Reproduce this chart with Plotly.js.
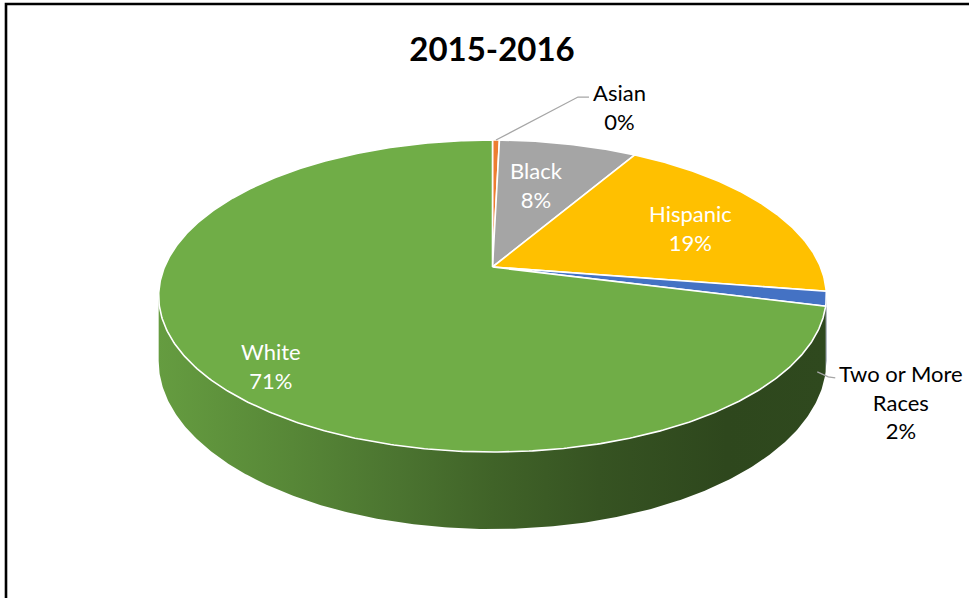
<!DOCTYPE html>
<html><head><meta charset="utf-8">
<script src="https://cdn.plot.ly/plotly-3.0.1.min.js"></script>
<style>html,body{margin:0;padding:0;background:#fff;}#chart{width:969px;height:598px;}</style>
</head><body><div id="chart"></div>
<script>
// ---- data ----
const categories = ['Asian', 'Black', 'Hispanic', 'Two or More Races', 'White'];
const values = [0.4, 8.0, 19.1, 1.5, 71.0];
const chartTitle = '2015-2016';

// ---- style ----
const colors = ['#ED7D31', '#A5A5A5', '#FFC000', '#4472C4', '#70AD47'];
const labelInside = [false, true, true, false, true];
const labelR = [1, 0.62, 0.69, 1, 0.84];
const labelDA = [0, -2, 2, 0, -6.6];
const FONT = 'Lato, Carlito, Calibri, sans-serif';
const LABEL_SIZE = 22;

// 3D-perspective geometry of the pie (pixel space)
const CX = 492.5, CY = 267, A = 328, B = 150.6, P = 0.186, H = 62.7;
function proj(deg, r, d) {
  const t = deg * Math.PI / 180;
  const u = r * Math.sin(t), v = -r * Math.cos(t);
  const w = 1 - P * v;
  return [CX + A * u / w, CY + (B * v + H * (d || 0)) / w];
}
function arc(a0, a1, d) {
  const pts = [];
  const n = Math.max(2, Math.ceil(Math.abs(a1 - a0) / 0.5));
  for (let k = 0; k <= n; k++) pts.push(proj(a0 + (a1 - a0) * k / n, 1, d));
  return pts;
}
function hex2rgb(h) { return [1, 3, 5].map(i => parseInt(h.substr(i, 2), 16)); }
function shade(h, f) { const c = hex2rgb(h); return 'rgb(' + c.map(x => Math.round(x * f)).join(',') + ')'; }

const total = values.reduce((s, v) => s + v, 0);
const starts = [], ends = [];
let acc = 0;
values.forEach(v => { starts.push(acc / total * 360); acc += v; ends.push(acc / total * 360); });

const thR = Math.acos(-P) * 180 / Math.PI, thL = 360 - thR;
const xMin = proj(thL, 1, 0)[0], xMax = proj(thR, 1, 0)[0];
const traces = [];

// side walls
values.forEach((v, i) => {
  const s = Math.max(starts[i], thR), e = Math.min(ends[i], thL);
  if (e <= s) return;
  const top = arc(s, e, 0), bot = arc(e, s, 1);
  const pts = top.concat(bot); pts.push(top[0]);
  const stops = [[0, 0.90], [0.2, 0.78], [0.36, 0.67], [0.5, 0.57], [0.66, 0.48], [0.85, 0.41], [1, 0.42]];
  traces.push({
    type: 'scatter', mode: 'lines', x: pts.map(p => p[0]), y: pts.map(p => p[1]),
    fill: 'toself', line: {width: 0, color: 'rgba(0,0,0,0)'}, hoverinfo: 'skip',
    fillcolor: shade(colors[i], 0.6),
    fillgradient: {type: 'horizontal', start: xMin, stop: xMax,
      colorscale: stops.map(sf => [sf[0], shade(colors[i], sf[1])])}
  });
});

// top faces
values.forEach((v, i) => {
  const c = proj(0, 0, 0);
  const pts = [c].concat(arc(starts[i], ends[i], 0)); pts.push(c);
  traces.push({
    type: 'scatter', mode: 'lines', x: pts.map(p => p[0]), y: pts.map(p => p[1]),
    fill: 'toself', fillcolor: colors[i], line: {color: '#FFFFFF', width: 1.6}, hoverinfo: 'skip'
  });
});

// labels
const annotations = [];
values.forEach((v, i) => {
  const pct = Math.round(v / total * 100) + '%';
  const name = categories[i].replace(' Races', '<br>Races');
  const mid = (starts[i] + ends[i]) / 2;
  if (labelInside[i]) {
    const p = proj(mid + labelDA[i], labelR[i], 0);
    annotations.push({x: p[0], y: p[1], xref: 'x', yref: 'y', showarrow: false,
      text: name + '<br>' + pct, font: {family: FONT, size: LABEL_SIZE, color: '#FFFFFF'}, align: 'center'});
  }
});
// outside labels with leader lines
const leaderA = proj((starts[0] + ends[0]) / 2, 1, 0);
const lA = [leaderA, [leaderA[0] + 82, leaderA[1] - 43], [leaderA[0] + 93, leaderA[1] - 43]];
const leaderT = proj((starts[3] + ends[3]) / 2, 1, 1);
const lT = [[leaderT[0] - 9, leaderT[1] + 8], [leaderT[0] + 2, leaderT[1] + 13], [leaderT[0] + 9, leaderT[1] + 14]];
[lA, lT].forEach(l => traces.push({type: 'scatter', mode: 'lines', x: l.map(p => p[0]), y: l.map(p => p[1]),
  line: {color: '#A6A6A6', width: 1.3}, hoverinfo: 'skip'}));
annotations.push({x: lA[2][0] + 31, y: lA[2][1] + 10, xref: 'x', yref: 'y', showarrow: false,
  text: categories[0] + '<br>' + Math.round(values[0] / total * 100) + '%',
  font: {family: FONT, size: LABEL_SIZE, color: '#000000'}, align: 'center'});
annotations.push({x: lT[2][0] + 66, y: lT[2][1] + 24, xref: 'x', yref: 'y', showarrow: false,
  text: categories[3].replace(' Races', '<br>Races') + '<br>' + Math.round(values[3] / total * 100) + '%',
  font: {family: FONT, size: LABEL_SIZE, color: '#000000'}, align: 'center'});

const layout = {
  width: 969, height: 598, margin: {l: 0, r: 0, t: 0, b: 0},
  paper_bgcolor: '#FFFFFF', plot_bgcolor: '#FFFFFF', showlegend: false, hovermode: false,
  title: {text: '<b>' + chartTitle + '</b>', font: {family: FONT, size: 33, color: '#000000'},
    x: 492 / 969, xanchor: 'center', y: 1 - 49 / 598, yanchor: 'middle'},
  xaxis: {range: [0, 969], visible: false, fixedrange: true},
  yaxis: {range: [598, 0], visible: false, fixedrange: true},
  shapes: [{type: 'rect', xref: 'x', yref: 'y', x0: 6, x1: 990, y0: 4, y1: 620,
    line: {color: '#000000', width: 2.6}, fillcolor: 'rgba(0,0,0,0)'}],
  annotations: annotations
};
Plotly.newPlot('chart', traces, layout, {staticPlot: true, displayModeBar: false});
</script></body></html>
